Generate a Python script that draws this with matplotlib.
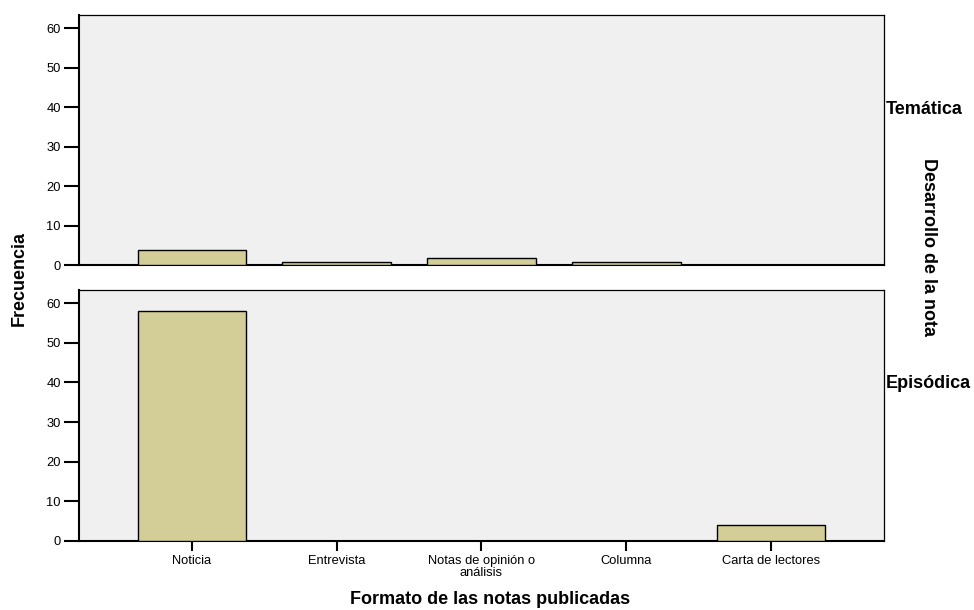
#!/usr/bin/env python3

import matplotlib
matplotlib.use("Agg")
import matplotlib.pyplot as plt

plt.rcParams['font.family'] = ['Liberation Sans', 'DejaVu Sans']

# data
categorias = ['Noticia', 'Entrevista', 'Notas de opinión o\nanálisis',
              'Columna', 'Carta de lectores']
tematica = [4, 1, 2, 1, 0]
episodica = [58, 0, 0, 0, 4]
paneles = ['Temática', 'Episódica']

W, H = 974, 610
fig = plt.figure(figsize=(W / 100, H / 100), dpi=100)

left, right = 79 / W, 884 / W
ax_top = fig.add_axes([left, 1 - 265.5 / H, right - left, (265.5 - 15) / H])
ax_bot = fig.add_axes([left, 1 - 540.7 / H, right - left, (540.7 - 290.3) / H])

x = list(range(len(categorias)))
for ax, vals in [(ax_top, tematica), (ax_bot, episodica)]:
    ax.set_facecolor('#f0f0f0')
    ax.bar(x, vals, width=0.75, color='#d3ce97', edgecolor='black',
           linewidth=1.0, zorder=3)
    ax.set_xlim(-0.78, len(categorias) - 1 + 0.78)
    ax.set_ylim(0, 63.3)
    ax.set_yticks([0, 10, 20, 30, 40, 50, 60])
    ax.tick_params(axis='y', direction='out', length=11, width=1.5,
                   labelsize=9.3, pad=2)
    for s in ['left', 'bottom']:
        ax.spines[s].set_linewidth(1.5)
    for s in ['top', 'right']:
        ax.spines[s].set_linewidth(0.9)

ax_top.set_xticks([])
ax_bot.set_xticks(x)
ax_bot.set_xticklabels(categorias, fontsize=9.3, linespacing=1.0)
ax_bot.tick_params(axis='x', direction='out', length=7, width=1.5, pad=3)

# panel labels on right side
fig.text(886 / W, 1 - 110 / H, paneles[0], fontsize=13, fontweight='bold',
         ha='left', va='center')
fig.text(886 / W, 1 - 383 / H, paneles[1], fontsize=13, fontweight='bold',
         ha='left', va='center')
fig.text(928 / W, 1 - 247 / H, 'Desarrollo de la nota', fontsize=13,
         fontweight='bold', rotation=-90, ha='center', va='center')

fig.text(19 / W, 1 - 278 / H, 'Frecuencia', fontsize=13, fontweight='bold',
         rotation=90, ha='center', va='center')
fig.text(490 / W, 1 - 599 / H, 'Formato de las notas publicadas', fontsize=13,
         fontweight='bold', ha='center', va='center')

fig.savefig('out.png', dpi=100)
